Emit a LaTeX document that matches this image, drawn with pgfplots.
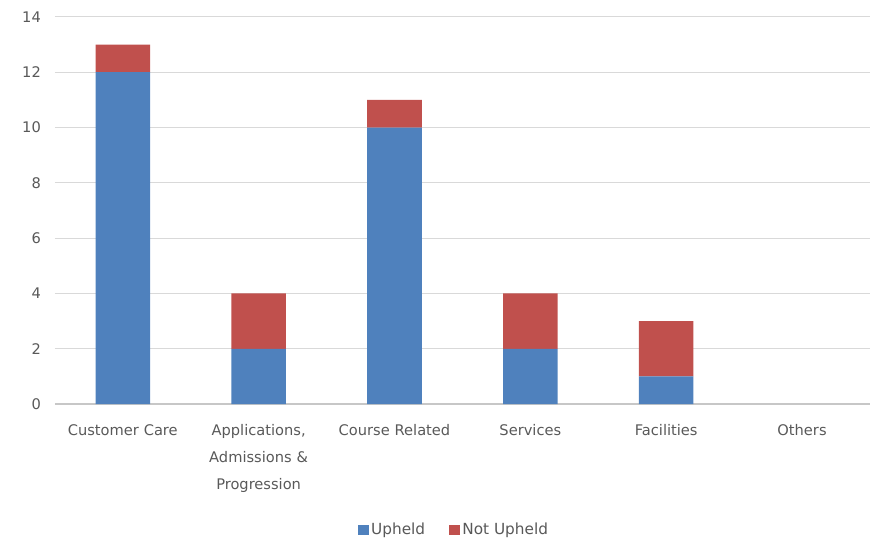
\documentclass[border=0pt]{standalone}
\usepackage{fontspec}
\setmainfont{DejaVu Sans}
\usepackage{pgfplots}
\pgfplotsset{compat=1.18}
\definecolor{upblue}{HTML}{4F81BD}
\definecolor{nupred}{HTML}{C0504D}
\definecolor{gridgray}{HTML}{D9D9D9}
\definecolor{txtgray}{HTML}{595959}
\begin{document}
\begin{tikzpicture}
\begin{axis}[
  scale only axis,
  width=612.75pt, height=291pt,
  ybar stacked,
  bar width=41pt,
  xmin=-0.5, xmax=5.5,
  ymin=0, ymax=14,
  ytick={0,2,...,14},
  xtick=data,
  xticklabels={Customer Care,{Applications,\\Admissions \&\\Progression},Course Related,Services,Facilities,Others},
  x tick label style={align=center, text width=100pt, font=\fontsize{11}{20}\selectfont, text=txtgray, yshift=-12pt},
  y tick label style={font=\fontsize{11}{13}\selectfont, text=txtgray, xshift=-7pt},
  /pgf/number format/assume math mode=true,
  major tick length=0pt,
  ymajorgrids,
  grid style={gridgray, line width=0.8pt},
  axis x line*=bottom,
  axis y line*=left,
  y axis line style={draw=none},
  x axis line style={draw=gridgray!80!gray, line width=0.9pt},
  legend style={at={(0.49,-0.325)}, anchor=center, draw=none, legend columns=2,
    font=\fontsize{11.5}{13}\selectfont, text=txtgray,
    /tikz/every even column/.append style={column sep=16pt}},
  legend image code/.code={\fill[#1] (0pt,-4pt) rectangle (8pt,4pt);},
  clip=false,
]
\addplot[fill=upblue, draw=none] coordinates {(0,12) (1,2) (2,10) (3,2) (4,1) (5,0)};
\addplot[fill=nupred, draw=none] coordinates {(0,1) (1,2) (2,1) (3,2) (4,2) (5,0)};
\legend{Upheld, Not Upheld}
\path (axis description cs:-0.0673,-0.3505) rectangle (axis description cs:1.0012,1.0438);
\end{axis}
\end{tikzpicture}
\end{document}
